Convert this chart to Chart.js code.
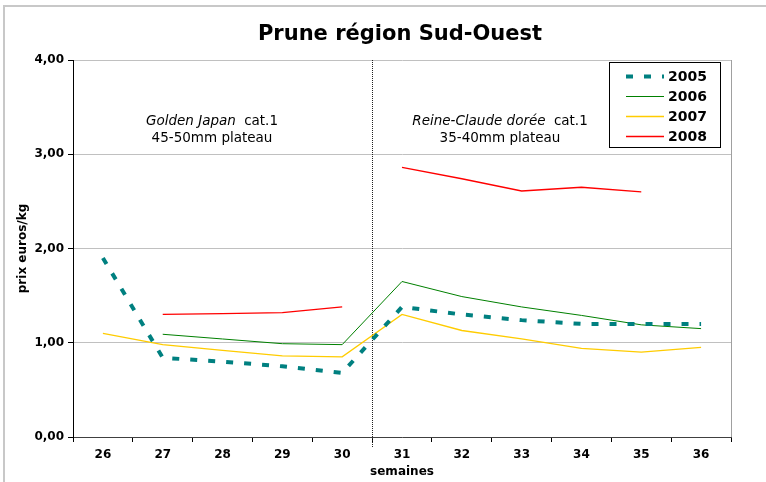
<!DOCTYPE html>
<html>
<head>
<meta charset="utf-8">
<script src="https://cdn.jsdelivr.net/npm/chart.js@4/dist/chart.umd.min.js"></script>
<style>
  html, body { margin: 0; padding: 0; background: #fff; }
  canvas { display: block; }
</style>
</head>
<body>
<canvas id="c" width="766" height="482"></canvas>
<script>
// ---- data ----
const weeks = ['26', '27', '28', '29', '30', '31', '32', '33', '34', '35', '36'];
const s2005 = [1.90, 0.84, 0.80, 0.75, 0.68, 1.38, 1.30, 1.24, 1.20, 1.20, 1.20];
const s2006 = [null, 1.09, 1.04, 0.99, 0.98, 1.65, 1.49, 1.38, 1.29, 1.19, 1.15];
const s2007 = [1.10, 0.98, 0.92, 0.86, 0.85, 1.30, 1.13, 1.04, 0.94, 0.90, 0.95];
const s2008 = [null, 1.30, 1.31, 1.32, 1.38, 2.86, 2.74, 2.61, 2.65, 2.60, null];
const seriesNames = ['2005', '2006', '2007', '2008'];
const yTicks = [0, 1, 2, 3, 4];
const chartTitle = 'Prune région Sud-Ouest';
const yTitle = 'prix euros/kg';
const xTitle = 'semaines';
const leftNote = ['Golden Japan', ' cat.1', '45-50mm plateau'];
const rightNote = ['Reine-Claude dorée', ' cat.1', '35-40mm plateau'];

const FONT = "'DejaVu Sans', Verdana, sans-serif";
const colors = ['#008080', '#008000', '#FFCC00', '#FF0000'];

const decor = {
  id: 'decor',
  beforeDraw(chart) {
    const ctx = chart.ctx;
    ctx.save();
    ctx.fillStyle = '#fff';
    ctx.fillRect(0, 0, chart.width, chart.height);
    ctx.strokeStyle = '#c8c8c8';
    ctx.lineWidth = 2;
    ctx.beginPath();
    ctx.moveTo(4, chart.height + 2);
    ctx.lineTo(4, 6);
    ctx.lineTo(chart.width + 2, 6);
    ctx.stroke();
    ctx.restore();
  },
  beforeDatasetsDraw(chart) {
    const ctx = chart.ctx;
    const a = chart.chartArea;
    const x = chart.scales.x;
    ctx.save();
    // right border of plot
    ctx.strokeStyle = '#a0a0a0';
    ctx.lineWidth = 1;
    ctx.beginPath();
    ctx.moveTo(Math.round(a.right) + 0.5, a.top);
    ctx.lineTo(Math.round(a.right) + 0.5, a.bottom);
    ctx.stroke();
    // divider between 30 and 31
    const xd = Math.round((x.getPixelForValue(4) + x.getPixelForValue(5)) / 2) + 0.5;
    ctx.strokeStyle = '#202020';
    ctx.setLineDash([1, 1]);
    ctx.beginPath();
    ctx.moveTo(xd, a.top);
    ctx.lineTo(xd, a.bottom + 11);
    ctx.stroke();
    ctx.setLineDash([]);
    // notes
    ctx.fillStyle = '#000';
    ctx.textBaseline = 'middle';
    function note(parts, cx) {
      const fi = 'italic 13.5px ' + FONT, fn = '13.5px ' + FONT;
      ctx.font = fi; const w1 = ctx.measureText(parts[0]).width;
      ctx.font = fn; const w2 = ctx.measureText(parts[1]).width + 4;
      let sx = cx - (w1 + w2) / 2;
      ctx.textAlign = 'left';
      ctx.font = fi; ctx.fillText(parts[0], sx, 121);
      ctx.font = fn; ctx.fillText(parts[1], sx + w1 + 4, 121);
      ctx.textAlign = 'center';
      ctx.fillText(parts[2], cx, 138);
    }
    note(leftNote, 212);
    note(rightNote, 500);
    ctx.restore();
  },
  afterDraw(chart) {
    const ctx = chart.ctx;
    ctx.save();
    // title
    ctx.fillStyle = '#000';
    ctx.font = 'bold 21px ' + FONT;
    ctx.textAlign = 'center';
    ctx.textBaseline = 'alphabetic';
    ctx.fillText(chartTitle, 400, 40);
    // legend box
    const bx = 609.5, by = 62.5, bw = 111, bh = 85;
    ctx.fillStyle = '#fff';
    ctx.fillRect(bx, by, bw, bh);
    ctx.strokeStyle = '#000';
    ctx.lineWidth = 1;
    ctx.strokeRect(bx, by, bw, bh);
    chart.data.datasets.forEach((ds, i) => {
      const y = 76 + i * 20;
      ctx.strokeStyle = ds.borderColor;
      ctx.lineWidth = ds.borderWidth;
      ctx.setLineDash(ds.borderDash || []);
      ctx.lineCap = 'butt';
      ctx.beginPath();
      ctx.moveTo(626, y + 0.5);
      ctx.lineTo(664, y + 0.5);
      ctx.stroke();
      ctx.setLineDash([]);
      ctx.fillStyle = '#000';
      ctx.font = 'bold 14px ' + FONT;
      ctx.textAlign = 'left';
      ctx.textBaseline = 'middle';
      ctx.fillText(ds.label, 668, y + 1);
    });
    ctx.restore();
  }
};

const gapAt30 = (color) => ({
  borderColor: ctx => ctx.p0DataIndex === 4 ? 'rgba(0,0,0,0)' : color
});

new Chart(document.getElementById('c'), {
  type: 'line',
  data: {
    labels: weeks,
    datasets: [
      { label: seriesNames[0], data: s2005, borderColor: colors[0], borderWidth: 4, borderDash: [7, 11], borderCapStyle: 'butt' },
      { label: seriesNames[1], data: s2006, borderColor: colors[1], borderWidth: 1 },
      { label: seriesNames[2], data: s2007, borderColor: colors[2], borderWidth: 1.3 },
      { label: seriesNames[3], data: s2008, borderColor: colors[3], borderWidth: 1.3, segment: gapAt30(colors[3]) }
    ]
  },
  options: {
    responsive: false,
    animation: false,
    devicePixelRatio: 1,
    layout: { padding: { left: 12, right: 35, top: 60, bottom: 0 } },
    elements: { point: { radius: 0, hoverRadius: 0 }, line: { tension: 0, fill: false } },
    plugins: { legend: { display: false }, title: { display: false }, tooltip: { enabled: false } },
    scales: {
      x: {
        type: 'category',
        offset: true,
        grid: { offset: true, drawOnChartArea: false, tickLength: 5, tickColor: '#000' },
        border: { color: '#404040', width: 1 },
        ticks: { color: '#000', font: { family: FONT, size: 12, weight: 'bold' }, padding: 6, maxRotation: 0 },
        title: { display: true, text: xTitle, color: '#000', font: { family: FONT, size: 12, weight: 'bold' }, padding: { top: 0, bottom: 3 } },
        afterFit(scale) { scale.height = 45; }
      },
      y: {
        min: 0, max: 4,
        afterBuildTicks(scale) { scale.ticks = yTicks.map(v => ({ value: v })); },
        grid: { color: '#c0c0c0', tickLength: 5, tickColor: '#000', drawTicks: true },
        border: { color: '#000', width: 1 },
        ticks: {
          color: '#000', padding: 4,
          font: { family: FONT, size: 12, weight: 'bold' },
          callback: v => v.toFixed(2).replace('.', ',')
        },
        title: { display: true, text: yTitle, color: '#000', font: { family: FONT, size: 12, weight: 'bold' }, padding: { top: 4, bottom: 0 } },
        afterFit(scale) { scale.width = 61; }
      }
    }
  },
  plugins: [decor]
});
</script>
</body>
</html>
